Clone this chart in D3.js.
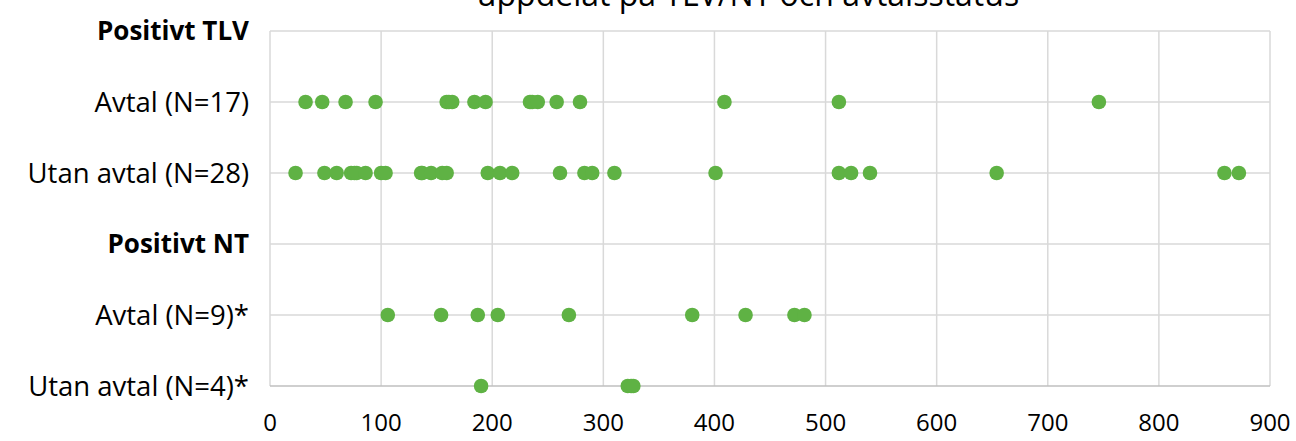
<!DOCTYPE html>
<html>
<head>
<meta charset="utf-8">
<script src="https://cdn.jsdelivr.net/npm/d3@7"></script>
<style>
  body { margin: 0; background: #fff; }
  #chart { width: 1296px; height: 441px; }
  text { font-family: "Open Sans", Lato, sans-serif; fill: #000; }
</style>
</head>
<body>
<div id="chart"></div>
<script>
const chart = document.querySelector("#chart")

const width = 1296
const height = 441
const margin = ({ top: 31, right: 26, bottom: 55, left: 270 })

// rader uppifrån och ned (rubrikrader saknar punkter)
const rows = ["Positivt TLV", "Avtal (N=17)", "Utan avtal (N=28)", "Positivt NT", "Avtal (N=9)*", "Utan avtal (N=4)*"]
const headerRows = ["Positivt TLV", "Positivt NT"]

// värden
const tlvAvtal = [32, 47, 68, 95, 159, 161, 164, 184, 194, 234, 236, 241, 258, 279, 409, 512, 746]
const tlvUtan = [23, 49, 60, 73, 76, 78, 86, 100, 104, 136, 137, 145, 155, 159, 196, 207, 218, 261, 283, 290, 310, 401, 512, 523, 540, 654, 859, 872]
const ntAvtal = [106, 154, 187, 205, 269, 380, 428, 472, 481]
const ntUtan = [190, 322, 325, 327]

const xTicks = [0, 100, 200, 300, 400, 500, 600, 700, 800, 900]
const title = "uppdelat på TLV/NT och avtalsstatus"

const series = [
  { row: "Avtal (N=17)", values: tlvAvtal },
  { row: "Utan avtal (N=28)", values: tlvUtan },
  { row: "Avtal (N=9)*", values: ntAvtal },
  { row: "Utan avtal (N=4)*", values: ntUtan }
]

var svg = d3.select("#chart")
  .append("svg")
  .attr("width", width)
  .attr("height", height)

const x = d3.scaleLinear()
  .domain([0, 900])
  .range([margin.left, width - margin.right])

const y = d3.scalePoint()
  .domain(rows)
  .range([margin.top, height - margin.bottom])

// title (only its lower part shows, as in the original)
svg.append("text")
  .attr("x", 748)
  .attr("y", 6)
  .attr("text-anchor", "middle")
  .attr("font-size", 32)
  .text(title)

// vertical gridlines
svg.append("g")
  .selectAll("line")
  .data(xTicks)
  .enter().append("line")
  .attr("x1", d => x(d))
  .attr("x2", d => x(d))
  .attr("y1", margin.top)
  .attr("y2", height - margin.bottom)
  .attr("stroke", "#d9d9d9")
  .attr("stroke-width", 1.5)

// horizontal gridlines, one per row
svg.append("g")
  .selectAll("line")
  .data(rows)
  .enter().append("line")
  .attr("x1", margin.left)
  .attr("x2", width - margin.right)
  .attr("y1", d => y(d))
  .attr("y2", d => y(d))
  .attr("stroke", (d, i) => i === rows.length - 1 ? "#bfbfbf" : "#d9d9d9")
  .attr("stroke-width", 1.5)

// row labels
svg.append("g")
  .selectAll("text")
  .data(rows)
  .enter().append("text")
  .attr("x", margin.left - 21)
  .attr("y", d => y(d))
  .attr("dy", "0.35em")
  .attr("text-anchor", "end")
  .attr("font-size", d => headerRows.includes(d) ? 26 : 27.5)
  .attr("font-weight", d => headerRows.includes(d) ? "bold" : "normal")
  .text(d => d)

// x tick labels
svg.append("g")
  .selectAll("text")
  .data(xTicks)
  .enter().append("text")
  .attr("x", d => x(d))
  .attr("y", 431)
  .attr("text-anchor", "middle")
  .attr("font-size", 24)
  .text(d => d)

// dots
svg.append("g")
  .selectAll("g")
  .data(series)
  .enter().append("g")
  .selectAll("circle")
  .data(d => d.values.map(v => ({ row: d.row, v: v })))
  .enter().append("circle")
  .attr("cx", d => x(d.v))
  .attr("cy", d => y(d.row))
  .attr("r", 7.3)
  .attr("fill", "#5fb244")
</script>
</body>
</html>
